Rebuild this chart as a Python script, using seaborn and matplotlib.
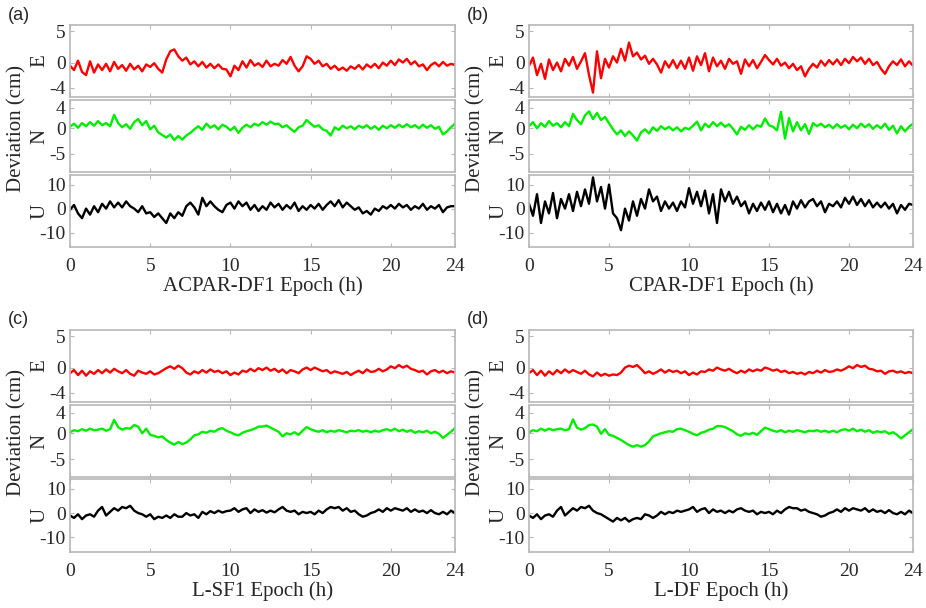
import numpy as np
import pandas as pd
import seaborn as sns
import matplotlib
matplotlib.use("Agg")
import matplotlib.pyplot as plt

# epoch grid (h), one sample every 15 min
hours = np.linspace(0, 24, 97)

# (a) ACPAR-DF1
a_E = [-0.5, -1.2, 0.3, -1.5, -2.0, 0.2, -1.6, -0.3, -1.2, -0.2, -1.4, 0.1,
       -1.0, -0.4, -1.3, -0.2, -1.1, -0.5, -1.4, -0.3, -0.7, -0.1, -1.0, -1.6,
       0.5, 1.8, 2.1, 1.0, 0.3, 0.8, -0.3, 0.2, -0.6, 0.1, -0.8, -0.2,
       -0.9, -0.3, -1.0, -1.1, -2.2, -0.5, -1.2, 0.2, -0.8, 0.4, -0.5, -0.1,
       -0.7, 0.3, -0.6, -0.2, -0.5, 0.4, -0.2, 0.9, -0.5, -1.4, -0.6, 1.0,
       0.6, -0.2, 0.3, -0.6, -0.2, -1.0, -0.5, -1.2, -0.8, -1.3, -0.6, -1.0,
       -0.4, -1.1, -0.3, -0.8, -0.2, -0.9, 0.0, -0.5, 0.3, -0.4, 0.5, 0.0,
       0.6, -0.3, 0.2, -0.6, -0.3, -1.2, -0.4, 0.0, -0.6, 0.1, -0.5, -0.2, -0.4]
a_N = [0.3, 0.9, 0.1, 1.0, 0.4, 1.2, 0.5, 1.4, 0.6, 1.0, 0.4, 2.6,
       1.0, 0.2, 0.8, -0.1, 1.2, 1.8, 0.6, 1.4, -0.2, 0.5, -0.8, -1.3,
       -1.8, -1.2, -2.3, -1.5, -2.2, -1.4, -0.9, -0.2, 0.4, -0.3, 0.9, 0.1,
       0.6, -0.2, 0.7, 0.3, -0.4, 0.3, -0.9, 0.1, 0.7, 0.2, 0.9, 0.5,
       1.2, 0.7, 1.3, 0.8, 0.9, 0.2, 0.6, -0.1, -0.7, 0.2, 0.5, 1.6,
       0.9, 0.3, 0.6, -0.2, -0.5, -1.4, 0.2, -0.3, 0.5, 0.0, 0.4, -0.2,
       0.5, 0.1, 0.6, -0.1, 0.4, -0.3, 0.5, 0.0, 0.6, 0.1, 0.7, 0.2,
       0.8, 0.2, 0.6, 0.0, 0.7, 0.1, 0.6, -0.1, 0.3, -1.2, -0.6, 0.2, 0.9]
a_U = [-0.5, 1.5, -2.0, -4.0, 0.0, -2.5, 1.0, -1.5, 2.0, 0.0, 3.0, 0.5,
       2.5, 0.5, 3.0, 1.0, 0.0, -1.5, 1.0, -2.0, -1.5, -3.5, -2.0, -4.0,
       -6.0, -2.0, -4.0, -1.5, -3.0, 1.0, 2.5, 0.5, -2.5, 4.5, 1.0, 3.0,
       1.0, -0.5, -1.5, 1.5, 2.5, 0.0, 3.0, 1.0, 2.5, -0.5, 1.5, -1.0,
       1.0, -0.5, 2.5, 0.5, 2.0, -0.5, 1.5, 0.0, 2.5, -1.0, 1.0, -0.5,
       1.5, 0.0, 2.0, -0.5, 1.5, 3.0, 1.0, 3.5, 0.5, 2.5, 1.0, -0.5,
       0.5, -2.0, -1.0, -2.5, 0.0, -1.0, 1.0, 0.0, 1.5, 0.0, 2.0, 0.5,
       1.5, -0.5, 1.0, 0.0, 2.0, -0.5, 1.0, 0.0, 1.5, -1.5, 0.5, 1.0, 1.0]

# (b) CPAR-DF1
b_E = [-0.5, 0.8, -2.0, -0.2, -2.6, 0.5, -1.2, 0.0, -1.4, 0.6, -0.5, 0.9,
       -1.0, 0.2, 1.5, -2.0, -4.8, 1.8, -2.5, 0.6, -0.8, 1.0, 0.0, 2.2,
       0.3, 3.2, 1.0, 1.6, 0.5, 1.1, -0.2, 0.6, -0.3, -1.6, 0.2, -0.8,
       0.4, -0.9, 0.3, -1.0, 0.8, -1.3, 1.0, -0.4, 1.5, -1.4, 0.8, -0.6,
       0.3, -1.0, 0.6, -0.2, 0.2, -1.8, 0.5, -0.6, 0.4, -0.9, 0.1, 1.2,
       0.4, -0.3, 0.6, -0.5, 0.0, -0.9, -0.2, -1.2, -0.6, -2.2, -1.0, -0.2,
       -0.8, 0.3, -0.5, 0.4, -0.3, 0.5, -0.4, 0.6, -0.1, 0.9, 0.2, 0.8,
       -0.2, 0.6, -0.4, 0.1, -1.0, -1.8, -0.6, 0.2, -0.4, 0.5, -0.6, 0.2, -0.5]
b_N = [0.4, 1.2, 0.0, 1.0, 0.3, 1.4, 0.5, 1.0, 0.2, 1.2, 0.4, 2.8,
       1.6, 0.8, 2.5, 3.3, 1.8, 3.0, 1.6, 2.2, 1.0, -0.2, -1.2, -0.4,
       -1.5, -0.6, -1.4, -2.4, -0.8, -0.2, -1.0, 0.2, -0.5, 0.4, -0.2, 0.3,
       -0.4, 0.2, -0.6, 0.1, -0.2, 0.5, 1.3, -0.4, 0.9, 0.2, 1.2, 0.4,
       1.1, 0.3, 0.8, -0.1, -1.2, 0.3, -0.3, 0.6, -0.2, 0.6, 0.3, 1.9,
       0.6, 0.3, -0.4, 3.2, -2.0, 2.0, -0.6, 1.2, -0.4, 0.8, -1.1, 1.0,
       0.4, 0.9, 0.2, 0.7, 0.0, 0.8, 0.1, 0.6, -0.2, 0.7, 0.0, 0.9,
       0.2, 0.8, -0.1, 0.6, 0.0, 0.9, -0.3, 0.5, -1.0, 0.4, -0.6, 0.3, 0.9]
b_U = [2.0, -3.0, 6.0, -6.0, 3.0, -2.0, 6.5, -4.0, 4.0, 0.0, 6.0, -1.0,
       7.0, 1.0, 8.0, 2.0, 13.0, 3.0, 9.0, 0.0, 10.0, -2.0, -4.0, -9.0,
       0.0, -5.0, 3.0, -3.0, 4.0, 0.0, 8.0, 3.0, 5.0, -1.0, 3.0, 0.0,
       2.5, -1.0, 3.0, 0.5, 8.5, 2.0, 7.0, 1.0, 7.5, -2.0, 6.0, -6.0,
       8.0, 3.0, 7.0, 2.0, 5.0, 1.0, 3.0, -2.0, 2.0, -1.0, 2.5, -0.5,
       3.0, -1.5, 2.0, -2.0, 1.5, -2.5, 3.0, 0.0, 3.5, 0.5, 3.0, 4.0,
       1.0, 3.0, -1.5, 2.0, 1.0, 3.0, 0.5, 4.5, 2.0, 5.0, 1.5, 4.0,
       1.0, 3.5, 0.5, 2.5, 0.5, 2.5, 0.0, 2.0, -2.0, 1.5, -0.5, 2.0, 1.5]

# (c) L-SF1
c_E = [-0.9, -0.4, -1.2, -0.5, -1.3, -0.6, -1.0, -0.4, -0.9, -0.3, -0.8, -0.2,
       -0.6, -0.9, -0.4, -1.0, -1.3, -0.5, -0.8, -1.0, -0.6, -1.1, -0.9, -0.5,
       -0.1, 0.2, -0.2, 0.3, -0.1, -0.8, -1.1, -0.6, -0.9, -0.4, -0.8, -0.3,
       -0.7, -0.5, -0.9, -0.6, -1.2, -0.8, -1.1, -0.5, -0.7, -0.2, -0.6, -0.1,
       -0.4, 0.0, -0.5, -0.2, -0.7, -0.3, -0.9, -0.4, -0.6, -0.9, -0.3, 0.0,
       -0.4, 0.0, -0.3, -0.6, -0.4, -0.9, -0.6, -0.8, -1.0, -0.7, -1.2, -0.8,
       -0.5, -0.9, -0.3, -0.7, -0.6, -0.2, -0.6, -0.3, 0.2, -0.1, 0.4, 0.0,
       0.3, -0.2, -0.4, -0.7, -0.5, -1.1, -0.6, -0.4, -0.8, -0.5, -0.9, -0.6, -0.8]
c_N = [0.2, 0.6, 0.4, 0.8, 0.5, 0.9, 0.6, 0.7, 0.9, 0.5, 0.8, 2.6,
       1.2, 0.7, 1.0, 0.9, 1.6, 1.3, 0.0, 0.9, -0.3, -0.5, -0.8, -0.6,
       -1.3, -1.8, -2.2, -1.7, -2.1, -1.8, -1.2, -0.4, -0.2, 0.3, 0.1, 0.5,
       0.3, 0.8, 1.0, 0.5, 0.2, -0.2, -0.4, 0.1, 0.4, 0.6, 0.9, 1.3,
       1.3, 1.5, 1.1, 0.7, 0.3, -0.6, 0.0, -0.2, 0.2, -0.3, 0.5, 1.2,
       0.8, 0.5, 0.3, 0.6, 0.2, 0.5, 0.3, 0.6, 0.4, 0.2, 0.5, 0.4,
       0.6, 0.3, 0.5, 0.2, 0.5, 0.3, 0.6, 0.8, 0.5, 0.9, 0.4, 0.7,
       0.3, 0.6, 0.1, 0.4, 0.2, 0.5, 0.0, 0.3, -0.1, -0.9, -0.3, 0.3, 1.0]
c_U = [-1.0, -2.0, -0.5, -2.5, -1.0, -0.5, -1.5, 1.0, 2.5, -1.0, 0.5, 2.0,
       1.0, 2.5, 2.0, 3.0, 1.0, 0.0, -0.5, -1.5, -0.5, -2.5, -1.5, -2.0,
       -1.0, -2.0, -0.5, -1.5, -1.5, 0.0, -1.0, -0.5, -2.0, 0.5, -0.5, 0.8,
       0.0, 1.0, 0.2, 0.8, 1.0, 2.0, 0.5, 1.5, 2.0, 0.0, 1.5, 0.5,
       1.2, 0.2, 1.0, 0.3, 1.5, 2.5, 1.0, 0.5, 1.0, -0.5, 0.5, 0.0,
       0.5, -0.5, 1.0, 0.0, 1.5, 2.5, 2.0, 2.5, 1.0, 2.0, 0.5, 1.0,
       -0.5, -1.5, -1.0, 0.0, 0.5, 1.5, 0.5, 2.0, 1.0, 2.0, 1.5, 1.0,
       2.0, 0.5, 1.5, 0.5, 1.0, 0.0, 1.2, 0.0, -0.5, 0.5, -0.5, 1.0, 0.0]

# (d) L-DF
d_E = [-0.9, -0.4, -1.2, -0.5, -1.3, -0.6, -1.1, -0.4, -0.9, -0.3, -0.8, -0.4,
       -0.7, -1.0, -0.5, -1.1, -1.4, -0.8, -1.3, -1.0, -1.3, -1.1, -1.2, -0.8,
       0.0, 0.3, 0.1, 0.4, -0.2, -0.9, -0.6, -1.0, -0.7, -0.3, -0.8, -0.4,
       -0.7, -0.5, -0.9, -0.6, -1.2, -0.8, -1.1, -0.6, -0.7, -0.3, -0.5, 0.0,
       -0.3, -0.5, -0.2, -0.6, -0.9, -0.5, -0.8, -0.3, -0.6, -0.3, -0.5, 0.0,
       -0.2, -0.5, -0.3, -0.7, -0.5, -0.9, -0.7, -1.0, -0.8, -1.1, -0.7, -0.9,
       -0.5, -0.8, -0.4, -0.7, -0.6, -0.3, -0.5, -0.2, 0.2, -0.1, 0.4, 0.1,
       0.3, -0.2, -0.3, -0.6, -0.5, -1.0, -0.6, -0.5, -0.8, -0.6, -0.9, -0.7, -0.9]
d_N = [0.2, 0.6, 0.4, 0.9, 0.5, 0.9, 0.6, 0.8, 0.9, 0.6, 0.8, 2.7,
       1.1, 0.7, 1.0, 1.6, 1.7, 1.3, -0.1, 0.8, -0.3, -0.5, -0.9, -1.3,
       -1.8, -2.3, -2.6, -2.3, -2.6, -2.3, -1.6, -0.6, -0.3, 0.0, 0.2, 0.4,
       0.3, 0.8, 0.9, 0.6, 0.3, -0.1, -0.4, 0.1, 0.3, 0.7, 0.9, 1.4,
       1.4, 1.2, 0.8, 0.4, -0.2, -0.5, 0.0, -0.2, 0.1, -0.3, 0.4, 1.1,
       0.8, 0.5, 0.3, 0.6, 0.2, 0.5, 0.3, 0.6, 0.4, 0.2, 0.5, 0.4,
       0.6, 0.3, 0.5, 0.2, 0.5, 0.2, 0.6, 0.8, 0.5, 0.9, 0.4, 0.7,
       0.3, 0.6, 0.1, 0.4, 0.2, 0.4, -0.1, 0.2, -0.3, -1.0, -0.4, 0.2, 0.8]
d_U = [-1.0, -2.0, -0.5, -2.5, -1.0, -0.5, -1.5, 1.0, 2.5, -1.0, 0.5, 2.0,
       1.0, 2.5, 2.0, 3.0, 1.0, 0.0, -0.5, -1.5, -2.5, -3.5, -2.0, -3.0,
       -2.0, -3.5, -2.5, -2.0, -2.5, -0.5, -1.0, -2.0, -1.0, 0.5, -0.5, 0.5,
       0.0, 1.0, 0.5, 1.0, 1.5, 2.5, 0.5, 1.5, 2.0, 0.0, 1.5, 0.5,
       1.0, 0.0, 1.0, 0.3, 1.5, 2.0, 1.0, 0.5, 1.0, -0.5, 0.5, 0.0,
       0.5, -0.5, 1.0, 0.0, 1.5, 2.5, 2.0, 2.0, 1.0, 1.5, 0.5, 0.0,
       -0.5, -1.5, -1.0, 0.0, 0.5, 1.5, 0.5, 2.0, 1.0, 2.0, 1.5, 1.0,
       2.0, 0.5, 1.5, 0.5, 1.0, 0.0, 1.2, 0.0, -0.5, 0.5, -0.5, 1.0, 0.0]

panel_tags = ['(a)', '(b)', '(c)', '(d)']
panel_names = ['ACPAR-DF1', 'CPAR-DF1', 'L-SF1', 'L-DF']
components = ['E', 'N', 'U']
comp_colors = ['#ff0000', '#00ee00', '#000000']
comp_ylims = [(-5.5, 6.0), (-8.5, 5.5), (-16.0, 14.0)]
comp_yticks = [[-4, 0, 5], [-5, 0, 4], [-10, 0, 10]]
xticks = [0, 5, 10, 15, 20, 24]

series = {
    '(a)': [a_E, a_N, a_U],
    '(b)': [b_E, b_N, b_U],
    '(c)': [c_E, c_N, c_U],
    '(d)': [d_E, d_N, d_U],
}

sns.set_style("white")
plt.rcParams['font.family'] = ['Liberation Serif', 'DejaVu Serif']
plt.rcParams['axes.unicode_minus'] = False

fig = plt.figure(figsize=(9.26, 6.08), dpi=100)
W, H = 926.0, 608.0

# pixel layout of each panel: left, width, and (top, bottom) of the E/N/U boxes
col_px = [(70, 385), (529, 384)]
row_px = [[(25, 97), (100, 172), (175, 247)],
          [(330, 402), (405, 477), (479, 552)]]

spine_col = '#b8b8b8'
tick_fs = 14
label_fs = 15

for k, tag in enumerate(panel_tags):
    r, c = divmod(k, 2)
    left, width = col_px[c]
    for j, comp in enumerate(components):
        top, bot = row_px[r][j]
        ax = fig.add_axes([left / W, 1 - bot / H, width / W, (bot - top) / H])
        df = pd.DataFrame({'Epoch': hours, 'Deviation': series[tag][j]})
        sns.lineplot(data=df, x='Epoch', y='Deviation', ax=ax, color=comp_colors[j],
                     linewidth=1.7)
        ax.set_xlim(0, 24)
        ax.set_ylim(*comp_ylims[j])
        ax.set_yticks(comp_yticks[j])
        ax.set_yticklabels([str(v) for v in comp_yticks[j]], fontsize=tick_fs)
        ax.set_xticks(xticks)
        ax.tick_params(direction='in', length=3, color=spine_col, top=True, right=True,
                       bottom=True, left=True, pad=3)
        ax.tick_params(axis='x', pad=8)
        for s in ax.spines.values():
            s.set_color(spine_col)
            s.set_linewidth(1.2)
        ax.set_ylabel('')
        ax.text(-0.078, 0.5, comp, transform=ax.transAxes, rotation=90,
                ha='center', va='center', fontsize=label_fs)
        if j < 2:
            ax.set_xticklabels([])
            ax.set_xlabel('')
        else:
            ax.set_xticklabels([str(v) for v in xticks], fontsize=tick_fs)
            ax.set_xlabel(panel_names[k] + ' Epoch (h)', fontsize=label_fs, labelpad=1)
    # shared label and panel tag for this panel
    mid = (row_px[r][0][0] + row_px[r][2][1]) / 2.0 - 8
    fig.text((left - 53) / W, 1 - mid / H, 'Deviation (cm)', rotation=90,
             ha='center', va='center', fontsize=label_fs)
    fig.text((left - 62) / W, 1 - (row_px[r][0][0] - 10) / H, tag, ha='left', va='center',
             fontsize=13, family=['Liberation Sans', 'DejaVu Sans'])

fig.savefig('out.png', dpi=100)
